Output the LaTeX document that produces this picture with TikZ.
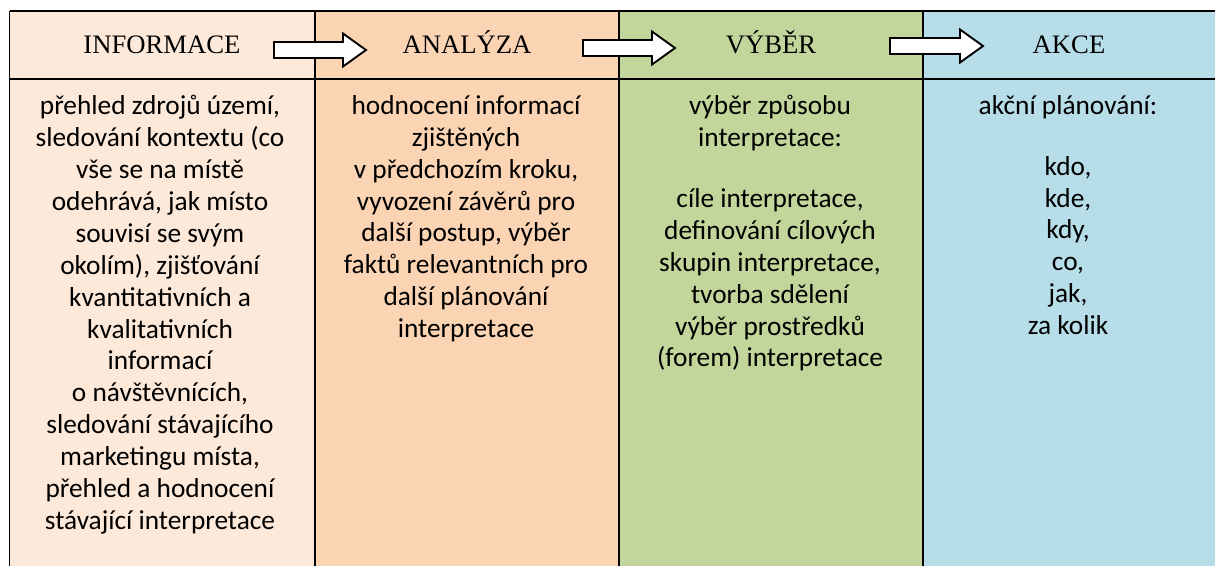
\documentclass[tikz,border=0pt]{standalone}
\usepackage{fontspec}
\setmainfont{Carlito}
\newfontfamily\headfont{Liberation Serif}
\usetikzlibrary{positioning}

\definecolor{infocol}{HTML}{FDE9D9}
\definecolor{analcol}{HTML}{FBD4B4}
\definecolor{vybercol}{HTML}{C2D69B}
\definecolor{akcecol}{HTML}{B6DDE8}

\begin{document}
\begin{tikzpicture}[x=0.45pt, y=-0.45pt,
  head/.style={font=\headfont\fontsize{12}{14}\selectfont, anchor=base, inner sep=0pt},
  body/.style={font=\fontsize{12.3}{14.35}\selectfont, align=center, anchor=north, inner sep=0pt},
  grid/.style={line width=0.85pt},
  blockarrow/.style={draw, line width=0.85pt, fill=white, line join=miter}]
  \useasboundingbox (0,0) rectangle (1215,566);
  % column backgrounds
  \fill[infocol] (9.5,11) rectangle (315,566);
  \fill[analcol] (315,11) rectangle (619,566);
  \fill[vybercol] (619,11) rectangle (923,566);
  \fill[akcecol] (923,11) rectangle (1215,566);
  % table lines
  \draw[grid] (9.5,11) -- (1215,11);
  \draw[grid] (9.5,79) -- (1215,79);
  \foreach \x in {9.5, 315, 619, 923}
    \draw[grid] (\x,11) -- (\x,566);
  % headings
  \node[head] (info) at (162,53) {INFORMACE};
  \node[head] (anal) at (467,53) {ANALÝZA};
  \node[head] (vyber) at (771,53) {VÝBĚR};
  \node[head] (akce) at (1069,53) {AKCE};
  % arrows
  \foreach \s/\t/\m in {274/366/50, 583/675/48, 890/983/46}
    \draw[blockarrow] (\s,\m-8) -- (\t-23,\m-8) -- (\t-23,\m-16.5) -- (\t,\m)
      -- (\t-23,\m+16.5) -- (\t-23,\m+8) -- (\s,\m+8) -- cycle;
  % column texts
  \node[body] (infotext) at (160,95) {přehled zdrojů území,\\ sledování kontextu (co\\ vše se na místě\\
    odehrává, jak místo\\ souvisí se svým\\ okolím), zjišťování\\ kvantitativních a\\ kvalitativních\\
    informací\\ o návštěvnících,\\ sledování stávajícího\\ marketingu místa,\\ přehled a hodnocení\\
    stávající interpretace};
  \node[body] (analtext) at (466,95) {hodnocení informací\\ zjištěných\\ v předchozím kroku,\\
    vyvození závěrů pro\\ další postup, výběr\\ faktů relevantních pro\\ další plánování\\ interpretace};
  \node[body] (vybertext) at (770,95) {výběr způsobu\\ interpretace:\\[13pt] cíle interpretace,\\
    definování cílových\\ skupin interpretace,\\ tvorba sdělení\\ výběr prostředků\\ (forem) interpretace};
  \node[body] (akcetext) at (1068,95) {akční plánování:\\[13pt] kdo,\\ kde,\\ kdy,\\ co,\\ jak,\\ za kolik};
\end{tikzpicture}
\end{document}
